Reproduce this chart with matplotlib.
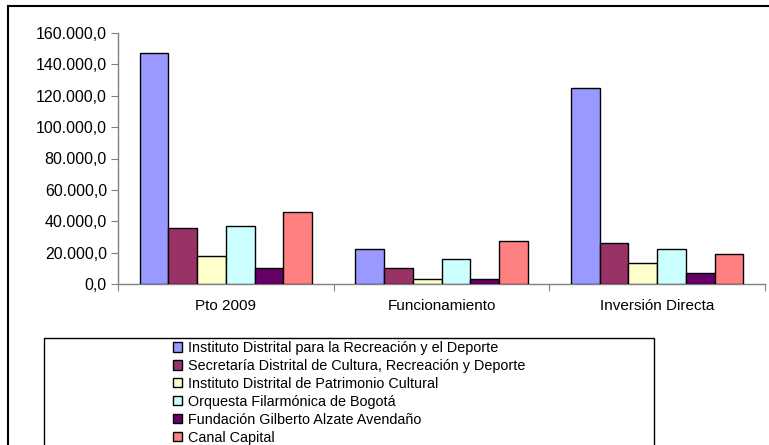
import numpy as np
import matplotlib
matplotlib.use("Agg")
import matplotlib.pyplot as plt
from matplotlib.patches import Rectangle
from matplotlib.ticker import FixedLocator, FuncFormatter

# ==================== DATA ====================

categories = ["Pto 2009", "Funcionamiento", "Inversión Directa"]
series_names = [
    "Instituto Distrital para la Recreación y el Deporte",
    "Secretaría Distrital de Cultura, Recreación y Deporte",
    "Instituto Distrital de Patrimonio Cultural",
    "Orquesta Filarmónica de Bogotá",
    "Fundación Gilberto Alzate Avendaño",
    "Canal Capital",
]
idrd = [147100, 22500, 124700]
scrd = [35900, 10000, 26100]
idpc = [17600, 3000, 13600]
ofb = [36800, 15700, 22500]
fgaa = [10000, 3200, 7000]
canal = [45700, 27200, 19300]
y_ticks = [0, 20000, 40000, 60000, 80000, 100000, 120000, 140000, 160000]

series_values = [idrd, scrd, idpc, ofb, fgaa, canal]
colors = ["#9999FF", "#993366", "#FFFFCC", "#CCFFFF", "#660066", "#FF8080"]

plt.rcParams['font.family'] = ['Liberation Sans', 'DejaVu Sans']

W, H = 769, 445
fig = plt.figure(figsize=(W / 100, H / 100), dpi=100)

# outer chart frame (goes past right and bottom edges like the original)
fig.patches.append(Rectangle((8 / W, -0.1), 1.2, 1 - 6 / H + 0.1,
                             transform=fig.transFigure, fill=False,
                             edgecolor="black", linewidth=1.5))

ax = fig.add_axes([118 / W, 1 - 284 / H, (765 - 118) / W, (284 - 33) / H])

# ==================== BARS ====================

n = len(series_values)
bar_w = 1 / (n + 1.5)
x_base = np.arange(len(categories)) + 0.5
for i, vals in enumerate(series_values):
    xs = x_base - n * bar_w / 2 + (i + 0.5) * bar_w
    ax.bar(xs, vals, width=bar_w, color=colors[i], edgecolor="black",
           linewidth=1.0, label=series_names[i], zorder=3)

ax.set_xlim(0, len(categories))
ax.set_ylim(0, 160000)

# ==================== AXES STYLE ====================

for s in ["top", "right"]:
    ax.spines[s].set_visible(False)
for s in ["left", "bottom"]:
    ax.spines[s].set_color("#808080")
    ax.spines[s].set_linewidth(1.0)

ax.yaxis.set_major_locator(FixedLocator(y_ticks))
ax.yaxis.set_major_formatter(FuncFormatter(
    lambda v, p: f"{v:,.1f}".replace(",", "X").replace(".", ",").replace("X", ".")))
ax.tick_params(axis="y", direction="out", length=5, color="#808080",
               labelsize=11.5, pad=3)

ax.xaxis.set_major_locator(FixedLocator(np.arange(len(categories) + 1)))
ax.xaxis.set_major_formatter(FuncFormatter(lambda v, p: ""))
ax.xaxis.set_minor_locator(FixedLocator(x_base))
ax.set_xticklabels(categories, minor=True)
ax.tick_params(axis="x", which="major", direction="out", length=5,
               color="#808080")
ax.tick_params(axis="x", which="minor", length=0, labelsize=11, pad=11)

# ==================== LEGEND ====================

fig.patches.append(Rectangle((44 / W, -0.1), (654 - 44) / W, 0.1 + 1 - 338 / H,
                             transform=fig.transFigure, fill=False,
                             edgecolor="black", linewidth=1.0))
handles, labels = ax.get_legend_handles_labels()
fig.legend(handles, labels, loc="upper center",
           bbox_to_anchor=(349 / W, 1 - 331 / H), frameon=False,
           fontsize=10.4, handlelength=0.6, handleheight=0.6,
           handletextpad=0.4, labelspacing=0.27, borderpad=0.2)

fig.savefig("out.png", dpi=100)
